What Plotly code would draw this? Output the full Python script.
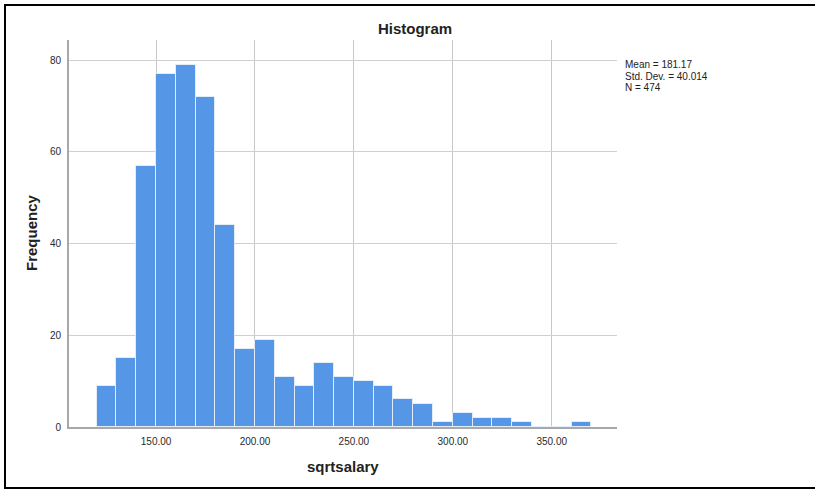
import plotly.graph_objects as go

# Histogram of sqrtsalary: bin edges (width 10) and frequency per bin
bin_edges = [120, 130, 140, 150, 160, 170, 180, 190, 200, 210, 220, 230, 240,
             250, 260, 270, 280, 290, 300, 310, 320, 330, 340, 350, 360, 370]
frequencies = [9, 15, 57, 77, 79, 72, 44, 17, 19, 11, 9, 14, 11,
               10, 9, 6, 5, 1, 3, 2, 2, 1, 0, 0, 1]

x_ticks = [150, 200, 250, 300, 350]
x_tick_labels = ["150.00", "200.00", "250.00", "300.00", "350.00"]
y_ticks = [0, 20, 40, 60, 80]

stats_lines = ["Mean = 181.17", "Std. Dev. = 40.014", "N = 474"]

centers = [(a + b) / 2 for a, b in zip(bin_edges[:-1], bin_edges[1:])]
widths = [b - a for a, b in zip(bin_edges[:-1], bin_edges[1:])]

FONT = "Liberation Sans, Arial, sans-serif"
W, H = 815, 489
L, R, T, B = 69, 198, 40, 62
pw, ph = W - L - R, H - T - B


def px_x(px):
    return (px - L) / pw


def px_y(py):
    return (H - B - py) / ph


fig = go.Figure(
    go.Bar(
        x=centers,
        y=frequencies,
        width=widths,
        marker=dict(color="#5596E6", line=dict(color="rgba(230,238,250,0.95)", width=1)),
        hoverinfo="x+y",
    )
)

fig.update_layout(
    width=W,
    height=H,
    margin=dict(l=L, r=R, t=T, b=B, pad=0),
    paper_bgcolor="white",
    plot_bgcolor="white",
    showlegend=False,
    font=dict(family=FONT, color="#333333", size=10),
    title=dict(
        text="<b>Histogram</b>",
        x=415 / W,
        xanchor="center",
        y=1 - 29 / H,
        yanchor="middle",
        yref="container",
        font=dict(family=FONT, size=15, color="#222222"),
    ),
    bargap=0,
)

fig.update_xaxes(
    range=[106.0, 383.0],
    tickvals=x_ticks,
    ticktext=x_tick_labels,
    showgrid=True,
    gridcolor="#c8c8c8",
    gridwidth=1,
    showline=True,
    linecolor="#a8a8a8",
    linewidth=2,
    ticks="",
    zeroline=False,
    tickfont=dict(family=FONT, size=10, color="#2a2a2a"),
    ticklabelstandoff=4,
)

fig.update_yaxes(
    range=[0, 84.4],
    tickvals=y_ticks,
    showgrid=True,
    gridcolor="#cfcfcf",
    gridwidth=1,
    showline=True,
    linecolor="#a8a8a8",
    linewidth=2,
    ticks="",
    zeroline=False,
    tickfont=dict(family=FONT, size=10, color="#2a2a2a"),
    ticklabelstandoff=4,
)

annotations = [
    dict(text="<b>sqrtsalary</b>", x=0.5, y=px_y(466), xref="paper", yref="paper",
         showarrow=False, xanchor="center", yanchor="middle",
         font=dict(family=FONT, size=15, color="#222222")),
    dict(text="<b>Frequency</b>", x=px_x(32), y=px_y(233), xref="paper", yref="paper",
         showarrow=False, xanchor="center", yanchor="middle", textangle=-90,
         font=dict(family=FONT, size=15, color="#222222")),
]
for i, line in enumerate(stats_lines):
    annotations.append(
        dict(text=line, x=px_x(623), y=px_y(65 + 11 * i), xref="paper", yref="paper",
             showarrow=False, xanchor="left", yanchor="middle",
             font=dict(family=FONT, size=10, color="#222222"))
    )
fig.update_layout(annotations=annotations)

# Black frame around the chart (open on the right side)
frame = dict(type="line", xref="paper", yref="paper", line=dict(color="black", width=2))
fig.update_layout(shapes=[
    dict(frame, x0=px_x(5), x1=px_x(820), y0=px_y(5), y1=px_y(5)),
    dict(frame, x0=px_x(5), x1=px_x(5), y0=px_y(4), y1=px_y(489)),
    dict(frame, x0=px_x(4), x1=px_x(820), y0=px_y(488), y1=px_y(488)),
])

fig.write_html("out.html")
